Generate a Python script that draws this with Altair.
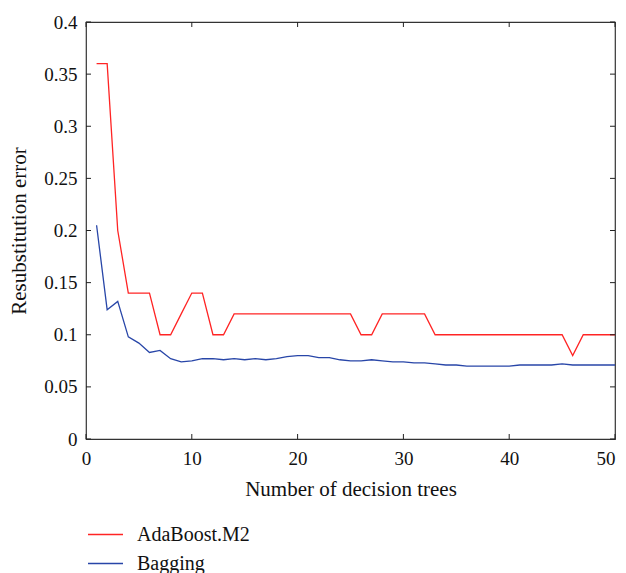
import altair as alt
import pandas as pd

trees = list(range(1, 51))
adaboost = [0.36, 0.36, 0.20, 0.14, 0.14, 0.14, 0.10, 0.10, 0.12, 0.14,
            0.14, 0.10, 0.10, 0.12, 0.12, 0.12, 0.12, 0.12, 0.12, 0.12,
            0.12, 0.12, 0.12, 0.12, 0.12, 0.10, 0.10, 0.12, 0.12, 0.12,
            0.12, 0.12, 0.10, 0.10, 0.10, 0.10, 0.10, 0.10, 0.10, 0.10,
            0.10, 0.10, 0.10, 0.10, 0.10, 0.08, 0.10, 0.10, 0.10, 0.10]
bagging = [0.205, 0.124, 0.132, 0.098, 0.092, 0.083, 0.085, 0.077, 0.074, 0.075,
           0.077, 0.077, 0.076, 0.077, 0.076, 0.077, 0.076, 0.077, 0.079, 0.080,
           0.080, 0.078, 0.078, 0.076, 0.075, 0.075, 0.076, 0.075, 0.074, 0.074,
           0.073, 0.073, 0.072, 0.071, 0.071, 0.070, 0.070, 0.070, 0.070, 0.070,
           0.071, 0.071, 0.071, 0.071, 0.072, 0.071, 0.071, 0.071, 0.071, 0.071]
series_names = ["AdaBoost.M2", "Bagging"]
series_colors = ["#ff2424", "#2846a8"]
x_ticks = [0, 10, 20, 30, 40, 50]
y_ticks = [0, 0.05, 0.1, 0.15, 0.2, 0.25, 0.3, 0.35, 0.4]

df = pd.DataFrame({
    "trees": trees * 2,
    "error": adaboost + bagging,
    "series": [series_names[0]] * len(trees) + [series_names[1]] * len(trees),
})

W, H = 529, 417
FONT = "Liberation Serif"

xs = alt.Scale(domain=[0, 50], nice=False)
ys = alt.Scale(domain=[0, 0.4], nice=False)

lines = alt.Chart(df).mark_line(strokeWidth=1.3).encode(
    x=alt.X("trees:Q", scale=xs,
            axis=alt.Axis(values=x_ticks, title="Number of decision trees", ticks=False,
                          domain=False, grid=False, labelPadding=10, titlePadding=10,
                          labelFlush=False, format="d",
                          labelAlign={"condition": {"test": "datum.value == 50", "value": "right"},
                                      "value": "center"})),
    y=alt.Y("error:Q", scale=ys,
            axis=alt.Axis(values=y_ticks, title="Resubstitution error", ticks=False,
                          domain=False, grid=False, labelPadding=9, titlePadding=14,
                          labelFlush=False, format=".2~f")),
    color=alt.Color("series:N",
                    scale=alt.Scale(domain=series_names, range=series_colors),
                    legend=alt.Legend(title=None, orient="none", legendX=1, legendY=494,
                                      symbolType="stroke", symbolSize=1225,
                                      symbolStrokeWidth=1.5, labelFontSize=20,
                                      labelFont=FONT, rowPadding=-8, padding=0,
                                      labelOffset=13, labelColor="#111")),
)

yt = pd.DataFrame({"v": y_ticks})
xt = pd.DataFrame({"v": x_ticks})
tick_style = dict(color="#222", strokeWidth=1)
yl = alt.Chart(yt).mark_rule(**tick_style).encode(y=alt.Y("v:Q", scale=ys), x=alt.value(0), x2=alt.value(5))
yr = alt.Chart(yt).mark_rule(**tick_style).encode(y=alt.Y("v:Q", scale=ys), x=alt.value(W - 5), x2=alt.value(W))
xb = alt.Chart(xt).mark_rule(**tick_style).encode(x=alt.X("v:Q", scale=xs), y=alt.value(H), y2=alt.value(H - 5))
xtp = alt.Chart(xt).mark_rule(**tick_style).encode(x=alt.X("v:Q", scale=xs), y=alt.value(0), y2=alt.value(5))

chart = alt.layer(lines, yl, yr, xb, xtp).properties(
    width=W, height=H, padding={"left": 0, "top": 5, "right": 0, "bottom": 0}
).configure_view(
    stroke="#333", strokeWidth=1.2
).configure_axis(
    labelFont=FONT, titleFont=FONT, labelFontSize=19, titleFontSize=21,
    labelColor="#111", titleColor="#111", titleFontWeight="normal"
)

chart.save("out.html", embed_options={"renderer": "svg", "actions": False})
